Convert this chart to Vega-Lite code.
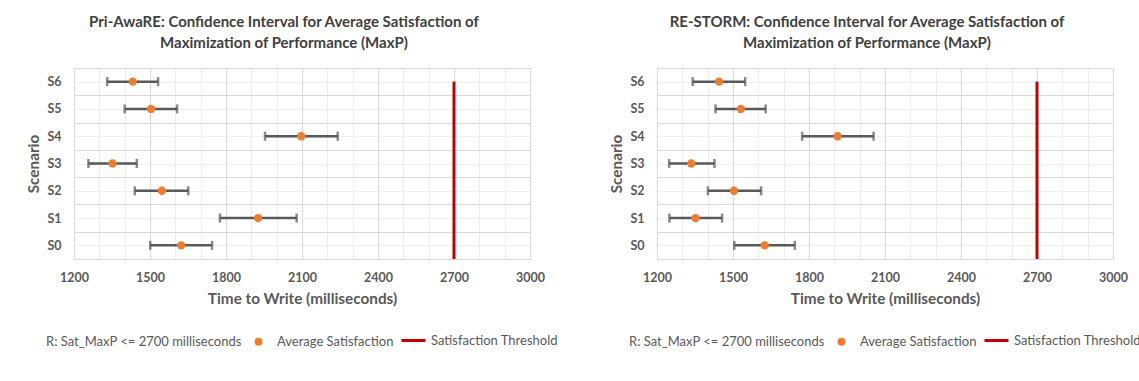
{
  "$schema": "https://vega.github.io/schema/vega-lite/v6.json",
  "background": "white",
  "padding": {"left": 21, "top": 15, "right": 0, "bottom": 0},
  "config": {
    "font": "Lato",
    "view": {"stroke": null},
    "axis": {"labelFont": "Lato", "titleFont": "Lato", "labelColor": "#595959", "titleColor": "#595959", "labelFontWeight": "bold", "titleFontWeight": "bold", "labelFontSize": 12.5, "titleFontSize": 15.3, "labelOverlap": false, "labelFlush": false, "tickCount": 100},
    "title": {"font": "Lato", "fontSize": 15, "fontWeight": "bold", "color": "#404040", "lineHeight": 21},
    "legend": {"labelFont": "Lato", "labelFontSize": 13, "labelColor": "#595959", "labelLimit": 400, "title": null}
  },
  "datasets": {
    "priaware": [
      {"scenario": "S0", "level": 0.5, "low": 1501, "mean": 1623, "high": 1745, "series": "Average Satisfaction"},
      {"scenario": "S1", "level": 1.5, "low": 1776, "mean": 1927, "high": 2079, "series": "Average Satisfaction"},
      {"scenario": "S2", "level": 2.5, "low": 1440, "mean": 1547, "high": 1651, "series": "Average Satisfaction"},
      {"scenario": "S3", "level": 3.5, "low": 1257, "mean": 1352, "high": 1448, "series": "Average Satisfaction"},
      {"scenario": "S4", "level": 4.5, "low": 1954, "mean": 2097, "high": 2241, "series": "Average Satisfaction"},
      {"scenario": "S5", "level": 5.5, "low": 1400, "mean": 1504, "high": 1607, "series": "Average Satisfaction"},
      {"scenario": "S6", "level": 6.5, "low": 1331, "mean": 1432, "high": 1532, "series": "Average Satisfaction"}
    ],
    "restorm": [
      {"scenario": "S0", "level": 0.5, "low": 1505, "mean": 1625, "high": 1744, "series": "Average Satisfaction"},
      {"scenario": "S1", "level": 1.5, "low": 1249, "mean": 1352, "high": 1457, "series": "Average Satisfaction"},
      {"scenario": "S2", "level": 2.5, "low": 1401, "mean": 1504, "high": 1611, "series": "Average Satisfaction"},
      {"scenario": "S3", "level": 3.5, "low": 1248, "mean": 1335, "high": 1427, "series": "Average Satisfaction"},
      {"scenario": "S4", "level": 4.5, "low": 1773, "mean": 1913, "high": 2055, "series": "Average Satisfaction"},
      {"scenario": "S5", "level": 5.5, "low": 1431, "mean": 1531, "high": 1629, "series": "Average Satisfaction"},
      {"scenario": "S6", "level": 6.5, "low": 1341, "mean": 1445, "high": 1548, "series": "Average Satisfaction"}
    ],
    "threshold": [
      {"time": 2700, "level": 0, "series": "Satisfaction Threshold"},
      {"time": 2700, "level": 6.5, "series": "Satisfaction Threshold"}
    ]
  },
  "bounds": "flush",
  "spacing": 127,
  "resolve": {
    "scale": {"color": "independent", "stroke": "independent"},
    "legend": {"color": "independent", "stroke": "independent"}
  },
  "hconcat": [
    {
      "width": 456,
      "height": 191,
      "title": {"text": ["Pri-AwaRE: Confidence Interval for Average Satisfaction of", "Maximization of Performance (MaxP)"], "dx": -18, "offset": 11},
      "data": {"name": "priaware"},
      "layer": [
        {
          "mark": {"type": "rule", "color": "#595959", "strokeWidth": 2.5},
          "encoding": {
            "x": {"field": "low", "type": "quantitative", "title": "Time to Write (milliseconds)",
              "scale": {"domain": [1200, 3000], "nice": false, "zero": false},
              "axis": {"values": [1200,1300,1400,1500,1600,1700,1800,1900,2000,2100,2200,2300,2400,2500,2600,2700,2800,2900,3000],
                "labelExpr": "datum.value % 300 === 0 ? datum.label : ''", "format": "d", "ticks": false, "domain": false, "labelPadding": 12, "titlePadding": 8,
                "gridColor": {"condition": {"test": "datum.value % 300 === 0", "value": "#D9D9D9"}, "value": "#EDEDED"}}},
            "x2": {"field": "high"},
            "y": {"field": "level", "type": "quantitative", "title": "Scenario",
              "scale": {"domain": [0, 7], "nice": false, "zero": false},
              "axis": {"values": [0,0.5,1,1.5,2,2.5,3,3.5,4,4.5,5,5.5,6,6.5,7],
                "labelExpr": "datum.value % 1 === 0.5 ? 'S' + floor(datum.value) : ''", "ticks": false, "domain": false, "labelPadding": 13, "titlePadding": 5,
                "gridColor": {"condition": {"test": "datum.value % 1 === 0", "value": "#D9D9D9"}, "value": "#EFEFEF"}}}
          }
        },
        {
          "mark": {"type": "tick", "orient": "vertical", "color": "#595959", "thickness": 2.5, "size": 9},
          "encoding": {
            "x": {"field": "low", "type": "quantitative", "title": "Time to Write (milliseconds)"},
            "y": {"field": "level", "type": "quantitative", "title": "Scenario"}
          }
        },
        {
          "mark": {"type": "tick", "orient": "vertical", "color": "#595959", "thickness": 2.5, "size": 9},
          "encoding": {
            "x": {"field": "high", "type": "quantitative", "title": "Time to Write (milliseconds)"},
            "y": {"field": "level", "type": "quantitative", "title": "Scenario"}
          }
        },
        {
          "data": {"name": "threshold"},
          "mark": {"type": "line", "strokeWidth": 3},
          "encoding": {
            "x": {"field": "time", "type": "quantitative", "title": "Time to Write (milliseconds)"},
            "y": {"field": "level", "type": "quantitative", "title": "Scenario"},
            "stroke": {"field": "series", "type": "nominal",
              "scale": {"domain": ["Satisfaction Threshold"], "range": ["#C00000"]},
              "legend": {"orient": "none", "legendX": 326, "legendY": 259, "symbolType": "stroke", "symbolSize": 576, "symbolStrokeWidth": 3, "labelOffset": 4}}
          }
        },
        {
          "mark": {"type": "point", "filled": true, "size": 70, "opacity": 1},
          "encoding": {
            "x": {"field": "mean", "type": "quantitative", "title": "Time to Write (milliseconds)"},
            "y": {"field": "level", "type": "quantitative", "title": "Scenario"},
            "color": {"field": "series", "type": "nominal",
              "scale": {"domain": ["R: Sat_MaxP <= 2700 milliseconds", "Average Satisfaction"], "range": ["#FFFFFF", "#ED7D31"]},
              "legend": {"orient": "none", "direction": "horizontal", "legendX": -53, "legendY": 267, "symbolType": "circle", "symbolSize": 64, "labelOffset": 12, "columnPadding": 10}}
          }
        }
      ]
    },
    {
      "width": 456,
      "height": 191,
      "title": {"text": ["RE-STORM: Confidence Interval for Average Satisfaction of", "Maximization of Performance (MaxP)"], "dx": -18, "offset": 11},
      "data": {"name": "restorm"},
      "layer": [
        {
          "mark": {"type": "rule", "color": "#595959", "strokeWidth": 2.5},
          "encoding": {
            "x": {"field": "low", "type": "quantitative", "title": "Time to Write (milliseconds)",
              "scale": {"domain": [1200, 3000], "nice": false, "zero": false},
              "axis": {"values": [1200,1300,1400,1500,1600,1700,1800,1900,2000,2100,2200,2300,2400,2500,2600,2700,2800,2900,3000],
                "labelExpr": "datum.value % 300 === 0 ? datum.label : ''", "format": "d", "ticks": false, "domain": false, "labelPadding": 12, "titlePadding": 8,
                "gridColor": {"condition": {"test": "datum.value % 300 === 0", "value": "#D9D9D9"}, "value": "#EDEDED"}}},
            "x2": {"field": "high"},
            "y": {"field": "level", "type": "quantitative", "title": "Scenario",
              "scale": {"domain": [0, 7], "nice": false, "zero": false},
              "axis": {"values": [0,0.5,1,1.5,2,2.5,3,3.5,4,4.5,5,5.5,6,6.5,7],
                "labelExpr": "datum.value % 1 === 0.5 ? 'S' + floor(datum.value) : ''", "ticks": false, "domain": false, "labelPadding": 13, "titlePadding": 5,
                "gridColor": {"condition": {"test": "datum.value % 1 === 0", "value": "#D9D9D9"}, "value": "#EFEFEF"}}}
          }
        },
        {
          "mark": {"type": "tick", "orient": "vertical", "color": "#595959", "thickness": 2.5, "size": 9},
          "encoding": {
            "x": {"field": "low", "type": "quantitative", "title": "Time to Write (milliseconds)"},
            "y": {"field": "level", "type": "quantitative", "title": "Scenario"}
          }
        },
        {
          "mark": {"type": "tick", "orient": "vertical", "color": "#595959", "thickness": 2.5, "size": 9},
          "encoding": {
            "x": {"field": "high", "type": "quantitative", "title": "Time to Write (milliseconds)"},
            "y": {"field": "level", "type": "quantitative", "title": "Scenario"}
          }
        },
        {
          "data": {"name": "threshold"},
          "mark": {"type": "line", "strokeWidth": 3},
          "encoding": {
            "x": {"field": "time", "type": "quantitative", "title": "Time to Write (milliseconds)"},
            "y": {"field": "level", "type": "quantitative", "title": "Scenario"},
            "stroke": {"field": "series", "type": "nominal",
              "scale": {"domain": ["Satisfaction Threshold"], "range": ["#C00000"]},
              "legend": {"orient": "none", "legendX": 326, "legendY": 259, "symbolType": "stroke", "symbolSize": 576, "symbolStrokeWidth": 3, "labelOffset": 4}}
          }
        },
        {
          "mark": {"type": "point", "filled": true, "size": 70, "opacity": 1},
          "encoding": {
            "x": {"field": "mean", "type": "quantitative", "title": "Time to Write (milliseconds)"},
            "y": {"field": "level", "type": "quantitative", "title": "Scenario"},
            "color": {"field": "series", "type": "nominal",
              "scale": {"domain": ["R: Sat_MaxP <= 2700 milliseconds", "Average Satisfaction"], "range": ["#FFFFFF", "#ED7D31"]},
              "legend": {"orient": "none", "direction": "horizontal", "legendX": -53, "legendY": 267, "symbolType": "circle", "symbolSize": 64, "labelOffset": 12, "columnPadding": 10}}
          }
        }
      ]
    }
  ]
}
